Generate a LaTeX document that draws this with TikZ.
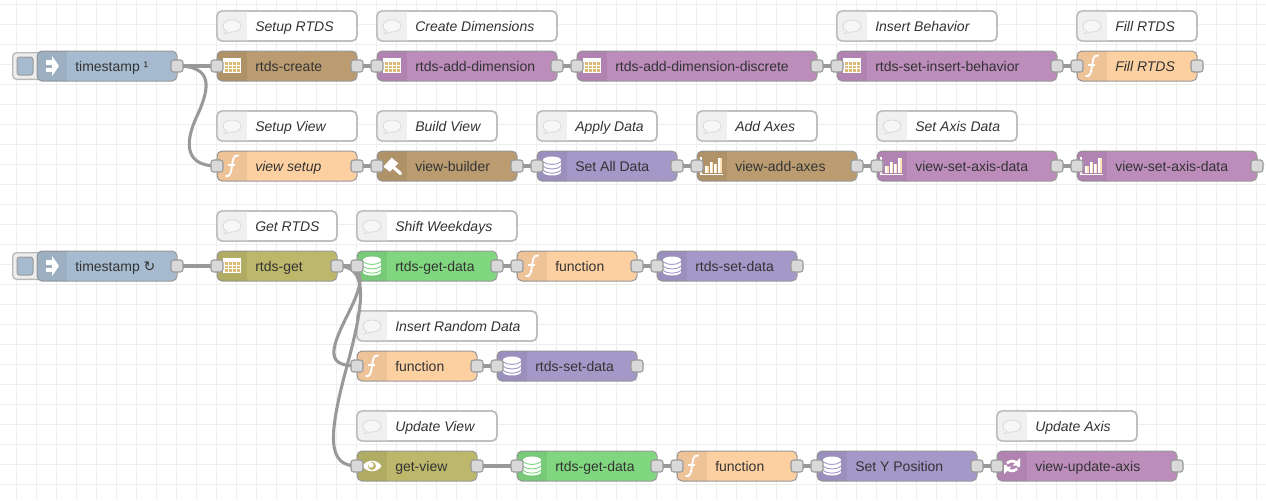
\documentclass[tikz,border=0pt]{standalone}
\usepackage{fontspec}
\setmainfont{Liberation Sans}
\newfontfamily\symfont{DejaVu Sans}
\pgfdeclarelayer{wirelayer}
\pgfdeclarelayer{portlayer}
\pgfsetlayers{main,wirelayer,portlayer}
\definecolor{cblue}{HTML}{A6BBCF}
\definecolor{ctan}{HTML}{BB9C70}
\definecolor{cpurple}{HTML}{BC8CBB}
\definecolor{corange}{HTML}{FDD0A2}
\definecolor{clav}{HTML}{A498C9}
\definecolor{cgreen}{HTML}{80D780}
\definecolor{colive}{HTML}{BDB76B}
\definecolor{cgrid}{HTML}{EEEEEE}
\definecolor{cedge}{HTML}{999999}
\definecolor{ctext}{HTML}{333333}
\definecolor{ccell}{HTML}{DDBB77}
\definecolor{ccream}{HTML}{FFE2B8}
\tikzset{
  x=0.75pt,y=-0.75pt,
  flowbody/.style={draw=cedge,line width=0.75pt,rounded corners=3.75pt,minimum height=22.5pt,inner sep=0pt,outer sep=0pt},
  notebody/.style={draw=black!28,fill=white,line width=1pt,rounded corners=3.75pt,minimum height=22.5pt,inner sep=0pt,outer sep=0pt},
  portnode/.style={draw=cedge,fill=black!15,line width=0.8pt,rounded corners=2pt,minimum width=9pt,minimum height=9pt,inner sep=0pt,outer sep=0pt},
  wire/.style={draw=cedge,line width=2.3pt},
  labeltext/.style={text=ctext,font=\fontsize{10.5pt}{12pt}\selectfont,anchor=base west,inner sep=0pt},
  notetext/.style={labeltext,font=\fontsize{10.5pt}{12pt}\selectfont\itshape},
}
% icons, drawn about the centre of the icon strip
\newcommand\icinject{%
  \fill[white] (-6.5,-6) rectangle (0,-1.5);
  \fill[white] (-6.5,1.5) rectangle (0,6);
  \fill[white] (0,-10) -- (7,0) -- (0,10) -- cycle;
}
\newcommand\ictable{%
  \fill[white] (-9,-8) rectangle (9,7);
  \foreach \cx in {-7.5,-3.5,0.5,4.5}\foreach \cy in {-4,-0.5,3}
    {\fill[ccell] (\cx,\cy) rectangle +(3,2.6);}
}
\newcommand\icf{%
  \draw[white,line width=1.4pt,line cap=round] (-6,10) .. controls (-2,11) and (-1,7) .. (0,0) .. controls (1,-6) and (1,-11) .. (6,-10.5);
  \draw[white,line width=1pt] (-4,-1) -- (3,-1);
}
\newcommand\icdb{%
  \fill[white] (-9,-6) rectangle (9,6);
  \fill[white] (0,-6) ellipse[x radius=9,y radius=3.5];
  \fill[white] (0,6) ellipse[x radius=9,y radius=3.5];
  \draw[nc,line width=0.7pt] (-9.2,-4.5) .. controls (-5,-0.5) and (5,-0.5) .. (9.2,-4.5);
  \draw[nc,line width=0.7pt] (-9.2,0) .. controls (-5,4) and (5,4) .. (9.2,0);
  \draw[nc,line width=0.7pt] (-9.2,4.2) .. controls (-5,8.2) and (5,8.2) .. (9.2,4.2);
}
\newcommand\ichammer{%
  \fill[white] (-8.7,0.7) -- (-0.3,-8.3) -- (6.3,-2.7) -- (-2,5.7) -- cycle;
  \draw[white,line width=2.4pt,line cap=round] (0,0) -- (8.6,7.6);
}
\newcommand\icchart{%
  \draw[white,line width=1pt] (-11,-9) -- (-11,8.3) -- (11,8.3);
  \fill[white] (-7.5,0) rectangle (-3.5,6.5);
  \fill[ccream] (-5,0) rectangle (-3.5,6.5);
  \fill[white] (-2.5,-4) rectangle (1,6.5);
  \fill[ccream] (-0.5,-4) rectangle (1,6.5);
  \fill[white] (2,-2) rectangle (5,6.5);
  \fill[ccream] (4,-2) rectangle (5,6.5);
  \fill[white] (6,-8) rectangle (9.5,6.5);
  \fill[ccream] (8,-8) rectangle (9.5,6.5);
}
\newcommand\iceye{%
  \fill[white] (-9.5,0) .. controls (-5,-7) and (5,-7) .. (9.5,0) .. controls (5,7) and (-5,7) .. (-9.5,0) -- cycle;
  \fill[nc] (0,0) circle[radius=4];
  \fill[white] (-1,-1) circle[radius=2.5];
}
\newcommand\icsync{%
  \draw[white,line width=2pt] (-7,-1) arc[start angle=170,end angle=45,radius=7.2];
  \fill[white] (8,-8) -- (8,-0.5) -- (0.5,-0.5) -- cycle;
  \draw[white,line width=2pt] (7,1) arc[start angle=-10,end angle=-135,radius=7.2];
  \fill[white] (-8,8) -- (-8,0.5) -- (-0.5,0.5) -- cycle;
}
\newcommand\icnote{%
  \draw[black!15,fill=white!97!black,line width=0.6pt] (-5,5.5) .. controls (-5,6.5) and (-6,7) .. (-7,7.5) .. controls (-4,7.5) and (-3,7) .. (-1.5,6) .. controls (5,6.5) and (9,3.5) .. (9,0) .. controls (9,-3.5) and (5,-6) .. (0,-6) .. controls (-5,-6) and (-9,-3.5) .. (-9,0) .. controls (-9,2.5) and (-7.5,4.5) .. (-5,5.5) -- cycle;
}
% #1 name, #2 left x, #3 width, #4 y centre, #5 colour, #6 icon, #7 text, #8 text style, #9 has input
\newcommand\flownode[9]{%
  \colorlet{nc}{#5}%
  \node[flowbody,fill=#5,minimum width=#3*0.75pt] (#1) at ({#2+#3/2},#4) {};
  \begin{scope}
    \clip[rounded corners=3.75pt] (#2,{#4-15}) rectangle ({#2+#3},{#4+15});
    \fill[black,opacity=0.06] (#2,{#4-15}) rectangle ({#2+30},{#4+15});
  \end{scope}
  \begin{scope}[shift={({#2+15},#4)}]#6\end{scope}
  \node[#8] (#1-t) at ({#2+38},{#4+5}) {#7};
  \begin{pgfonlayer}{portlayer}
    \if#91\node[portnode] (#1-in) at (#2,#4) {};\fi
    \node[portnode] (#1-out) at ({#2+#3},#4) {};
  \end{pgfonlayer}
}
% #1 name, #2 left x, #3 width, #4 y centre, #5 text
\newcommand\notenode[5]{%
  \node[notebody,minimum width=#3*0.75pt] (#1) at ({#2+#3/2},#4) {};
  \begin{scope}
    \clip[rounded corners=3.75pt] (#2,{#4-15}) rectangle ({#2+#3},{#4+15});
    \fill[black!6] (#2,{#4-15}) rectangle ({#2+30},{#4+15});
  \end{scope}
  \draw[black!28,line width=1pt,rounded corners=3.75pt] (#2,{#4-15}) rectangle ({#2+#3},{#4+15});
  \begin{scope}[shift={({#2+15},#4)}]\icnote\end{scope}
  \node[notetext] (#1-t) at ({#2+38},{#4+5}) {#5};
}
% inject button
\newcommand\injectbutton[2]{%
  \node[draw=black!28,fill=cgrid,line width=1pt,rounded corners=3pt,minimum width=25pt,minimum height=20pt,inner sep=0pt,anchor=west] (#1) at (12,#2) {};
  \node[draw=cedge,fill=cblue,line width=0.75pt,rounded corners=2pt,minimum width=12pt,minimum height=13.5pt,inner sep=0pt] (#1-k) at (25,#2) {};
}
\begin{document}
\begin{tikzpicture}
\useasboundingbox (0,0) rectangle (1266,500);
\fill[white] (0,0) rectangle (1266,500);
\foreach \gx in {0,...,62}{\draw[cgrid,line width=0.75pt] ({16.5+20*\gx},0) -- ({16.5+20*\gx},500);}
\foreach \gy in {0,...,24}{\draw[cgrid,line width=0.75pt] (0,{4.5+20*\gy}) -- (1266,{4.5+20*\gy});}

% comments
\notenode{c1}{217}{140}{26}{Setup RTDS}
\notenode{c2}{377}{180}{26}{Create Dimensions}
\notenode{c3}{837}{160}{26}{Insert Behavior}
\notenode{c4}{1077}{120}{26}{Fill RTDS}
\notenode{c5}{217}{140}{126}{Setup View}
\notenode{c6}{377}{120}{126}{Build View}
\notenode{c7}{537}{120}{126}{Apply Data}
\notenode{c8}{697}{120}{126}{Add Axes}
\notenode{c9}{877}{140}{126}{Set Axis Data}
\notenode{c10}{217}{120}{226}{Get RTDS}
\notenode{c11}{357}{160}{226}{Shift Weekdays}
\notenode{c12}{357}{180}{326}{Insert Random Data}
\notenode{c13}{357}{140}{426}{Update View}
\notenode{c14}{997}{140}{426}{Update Axis}

% buttons
\injectbutton{b1}{66}
\injectbutton{b2}{266}

% row 1
\flownode{ts1}{37}{140}{66}{cblue}{\icinject}{timestamp ¹}{labeltext}{0}
\flownode{create}{217}{140}{66}{ctan}{\ictable}{rtds-create}{labeltext}{1}
\flownode{adddim}{377}{180}{66}{cpurple}{\ictable}{rtds-add-dimension}{labeltext}{1}
\flownode{adddisc}{577}{240}{66}{cpurple}{\ictable}{rtds-add-dimension-discrete}{labeltext}{1}
\flownode{insbeh}{837}{220}{66}{cpurple}{\ictable}{rtds-set-insert-behavior}{labeltext}{1}
\flownode{fill}{1077}{120}{66}{corange}{\icf}{Fill RTDS}{notetext}{1}
% row 2
\flownode{vsetup}{217}{140}{166}{corange}{\icf}{view setup}{notetext}{1}
\flownode{vbuild}{377}{140}{166}{ctan}{\ichammer}{view-builder}{labeltext}{1}
\flownode{setall}{537}{140}{166}{clav}{\icdb}{Set All Data}{labeltext}{1}
\flownode{addaxes}{697}{160}{166}{ctan}{\icchart}{view-add-axes}{labeltext}{1}
\flownode{axd1}{877}{180}{166}{cpurple}{\icchart}{view-set-axis-data}{labeltext}{1}
\flownode{axd2}{1077}{180}{166}{cpurple}{\icchart}{view-set-axis-data}{labeltext}{1}
% row 3
\flownode{ts2}{37}{140}{266}{cblue}{\icinject}{timestamp {\symfont ↻}}{labeltext}{0}
\flownode{rget}{217}{120}{266}{colive}{\ictable}{rtds-get}{labeltext}{1}
\flownode{gd1}{357}{140}{266}{cgreen}{\icdb}{rtds-get-data}{labeltext}{1}
\flownode{fn1}{517}{120}{266}{corange}{\icf}{function}{labeltext}{1}
\flownode{sd1}{657}{140}{266}{clav}{\icdb}{rtds-set-data}{labeltext}{1}
% row 4
\flownode{fn2}{357}{120}{366}{corange}{\icf}{function}{labeltext}{1}
\flownode{sd2}{497}{140}{366}{clav}{\icdb}{rtds-set-data}{labeltext}{1}
% row 5
\flownode{gview}{357}{120}{466}{colive}{\iceye}{get-view}{labeltext}{1}
\flownode{gd2}{517}{140}{466}{cgreen}{\icdb}{rtds-get-data}{labeltext}{1}
\flownode{fn3}{677}{120}{466}{corange}{\icf}{function}{labeltext}{1}
\flownode{ypos}{817}{160}{466}{clav}{\icdb}{Set Y Position}{labeltext}{1}
\flownode{upd}{997}{180}{466}{cpurple}{\icsync}{view-update-axis}{labeltext}{1}

\coordinate (m1) at (197,116);
\coordinate (m2) at (347,316);
\coordinate (m3) at (347,366);
\begin{pgfonlayer}{wirelayer}
  \foreach \a/\b in {ts1/create,create/adddim,adddim/adddisc,adddisc/insbeh,insbeh/fill,
    vsetup/vbuild,vbuild/setall,setall/addaxes,addaxes/axd1,axd1/axd2,
    ts2/rget,rget/gd1,gd1/fn1,fn1/sd1,fn2/sd2,gview/gd2,gd2/fn3,fn3/ypos,ypos/upd}
    {\draw[wire] (\a-out.center) -- (\b-in.center);}
  \draw[wire] (ts1-out.center) .. controls +(35,0) and (211,86) .. (m1) .. controls (183,146) and (187,166) .. (vsetup-in.center);
  \draw[wire] (rget-out.center) .. controls +(30,0) and (365,280) .. (m2) .. controls (329,352) and (327,366) .. (fn2-in.center);
  \draw[wire] (rget-out.center) .. controls +(30,0) and (366,296) .. (m3) .. controls (328,436) and (327,466) .. (gview-in.center);
\end{pgfonlayer}
\end{tikzpicture}
\end{document}
